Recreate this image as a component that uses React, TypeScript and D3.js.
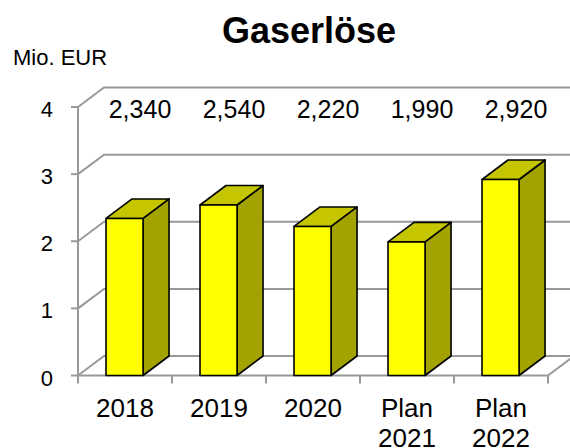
import React, { useEffect, useRef } from "react";
import * as d3 from "d3";

// chart data
const categories = ["2018", "2019", "2020", "Plan 2021", "Plan 2022"];
const values = [2.34, 2.54, 2.22, 1.99, 2.92];
const valueLabels = ["2,340", "2,540", "2,220", "1,990", "2,920"];
const yTicks = [0, 1, 2, 3, 4];

const title = "Gaserlöse";
const unitLabel = "Mio. EUR";

export default function App() {
  const ref = useRef<SVGSVGElement>(null);

  useEffect(() => {
    const svg = d3.select(ref.current);
    svg.selectAll("*").remove();

    const font = "'Liberation Sans', Arial, sans-serif";
    const depthX = 26,
      depthY = -19.5;

    const x = d3.scaleBand<string>().domain(categories).range([78, 548]);
    const y = d3.scaleLinear().domain([0, 4]).range([375.5, 107]);
    const bw = x.bandwidth();

    const grid = svg.append("g")
      .attr("stroke", "#999")
      .attr("stroke-width", 2)
      .attr("fill", "none");

    // back wall gridlines + side diagonals
    yTicks.forEach(t => {
      grid.append("path")
        .attr("d", d3.line()([
          [x.range()[0], y(t)],
          [x.range()[0] + depthX, y(t) + depthY],
          [x.range()[1] + depthX, y(t) + depthY],
        ]));
    });

    // front axes
    grid.append("line")
      .attr("x1", 78).attr("x2", 78)
      .attr("y1", y(0)).attr("y2", y(4));
    grid.append("line")
      .attr("x1", x.range()[0]).attr("x2", x.range()[1])
      .attr("y1", y(0)).attr("y2", y(0));
    grid.append("line")
      .attr("x1", x.range()[1]).attr("x2", x.range()[1] + depthX)
      .attr("y1", y(0)).attr("y2", y(0) + depthY);

    // y ticks
    yTicks.forEach(t => {
      grid.append("line")
        .attr("x1", 71).attr("x2", 78)
        .attr("y1", y(t)).attr("y2", y(t));
      svg.append("text")
        .attr("x", 53)
        .attr("y", y(t) + 10)
        .attr("text-anchor", "end")
        .attr("font-family", font)
        .attr("font-size", 22)
        .text(t);
    });

    // x ticks
    const bounds = categories.map(c => x(c) as number).concat([x.range()[1]]);
    bounds.forEach(b => {
      grid.append("line")
        .attr("x1", b).attr("x2", b)
        .attr("y1", y(0)).attr("y2", y(0) + 8);
    });

    // bars
    const bars = svg.append("g")
      .attr("stroke", "#000")
      .attr("stroke-width", 1.6)
      .attr("stroke-linejoin", "round");

    categories.forEach((c, i) => {
      const x0 = (x(c) as number) + bw * 0.298;
      const w = bw * 0.394;
      const top = y(values[i]);
      const bottom = y(0);

      bars.append("path")
        .attr("fill", "#a3a300")
        .attr("d", d3.line()([
          [x0 + w, top],
          [x0 + w + depthX, top + depthY],
          [x0 + w + depthX, bottom + depthY],
          [x0 + w, bottom],
        ]) + "Z");
      bars.append("path")
        .attr("fill", "#c6c600")
        .attr("d", d3.line()([
          [x0, top],
          [x0 + depthX, top + depthY],
          [x0 + w + depthX, top + depthY],
          [x0 + w, top],
        ]) + "Z");
      bars.append("rect")
        .attr("fill", "#ffff00")
        .attr("x", x0).attr("y", top)
        .attr("width", w).attr("height", bottom - top);

      svg.append("text")
        .attr("x", (x(c) as number) + bw / 2 + 15)
        .attr("y", 118)
        .attr("text-anchor", "middle")
        .attr("font-family", font)
        .attr("font-size", 25)
        .text(valueLabels[i]);

      const lines = c.split(" ");
      lines.forEach((l, j) => {
        svg.append("text")
          .attr("x", (x(c) as number) + bw / 2)
          .attr("y", 417 + j * 30)
          .attr("text-anchor", "middle")
          .attr("font-family", font)
          .attr("font-size", 26)
          .text(l);
      });
    });

    svg.append("text")
      .attr("x", 309)
      .attr("y", 43)
      .attr("text-anchor", "middle")
      .attr("font-family", font)
      .attr("font-weight", "bold")
      .attr("font-size", 36)
      .text(title);

    svg.append("text")
      .attr("x", 13)
      .attr("y", 65)
      .attr("font-family", font)
      .attr("font-size", 22)
      .text(unitLabel);
  }, []);

  return (
    <svg
      ref={ref}
      width={570}
      height={448}
      style={{ position: "absolute", left: 0, top: 0, background: "#fff" }}
    />
  );
}
